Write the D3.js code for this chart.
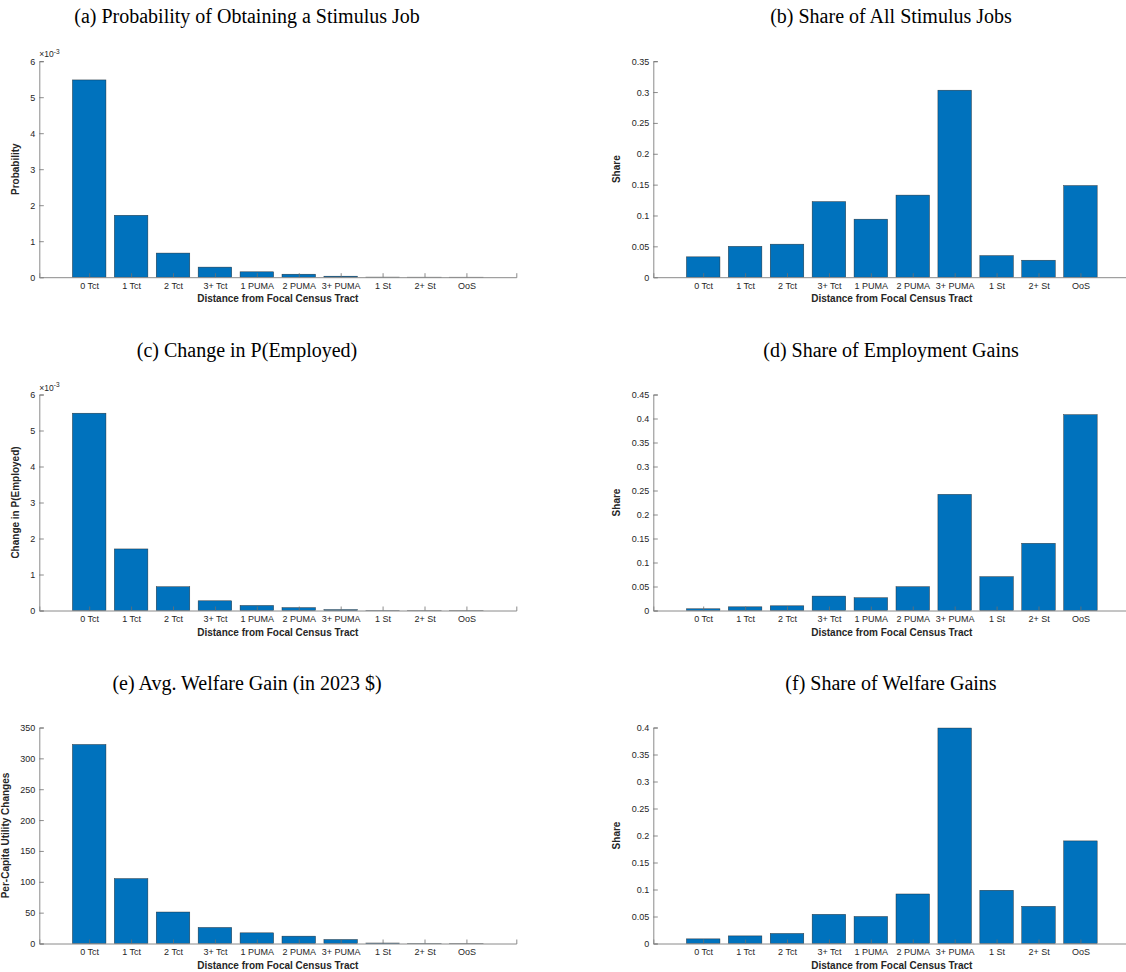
<!DOCTYPE html>
<html lang="en">
<head>
<meta charset="UTF-8">
<title>Stimulus jobs by distance</title>
<style>
    body { margin: 0; background: #fff; }
    svg { display: block; }
    .title { font-family: "Liberation Serif", "Times New Roman", serif; font-size: 20px; fill: #000; }
    .tick text { font-family: "Liberation Sans", Arial, sans-serif; font-size: 9px; fill: #262626; }
    .lbl { font-family: "Liberation Sans", Arial, sans-serif; font-size: 10px; font-weight: bold; fill: #262626; }
    .expo { font-family: "Liberation Sans", Arial, sans-serif; font-size: 8.5px; fill: #262626; }
</style>
</head>
<body>
<div id="chart"></div>
<script src="https://d3js.org/d3.v7.min.js"></script>
<script>
    // categories along the x axis
    const categories = ["0 Tct", "1 Tct", "2 Tct", "3+ Tct", "1 PUMA", "2 PUMA", "3+ PUMA", "1 St", "2+ St", "OoS"];

    // values
    const probJob      = [0.00548, 0.00172, 0.00067, 0.00028, 0.00015, 0.000083, 0.000028, 0.000003, 0.000001, 0.0000005];
    const shareJobs    = [0.033, 0.050, 0.0535, 0.1225, 0.094, 0.133, 0.303, 0.035, 0.0275, 0.1485];
    const changeEmp    = [0.00548, 0.00171, 0.00066, 0.00027, 0.00014, 0.00008, 0.000025, 0.000003, 0.000001, 0.0000005];
    const shareEmp     = [0.0036, 0.0077, 0.0098, 0.030, 0.0266, 0.0496, 0.242, 0.0705, 0.140, 0.408];
    const welfareGain  = [322.5, 105.2, 51, 26, 17.3, 11.9, 6.5, 0.8, 0.2, 0.1];
    const shareWelfare = [0.0086, 0.0141, 0.0186, 0.054, 0.050, 0.0917, 0.399, 0.0986, 0.0688, 0.190];

    // y tick values
    const ticksProb   = [0, 0.001, 0.002, 0.003, 0.004, 0.005, 0.006];
    const ticksShareB = [0, 0.05, 0.1, 0.15, 0.2, 0.25, 0.3, 0.35];
    const ticksShareD = [0, 0.05, 0.1, 0.15, 0.2, 0.25, 0.3, 0.35, 0.4, 0.45];
    const ticksWelf   = [0, 50, 100, 150, 200, 250, 300, 350];
    const ticksShareF = [0, 0.05, 0.1, 0.15, 0.2, 0.25, 0.3, 0.35, 0.4];

    const titles  = ["(a) Probability of Obtaining a Stimulus Job", "(b) Share of All Stimulus Jobs",
                     "(c) Change in P(Employed)", "(d) Share of Employment Gains",
                     "(e) Avg. Welfare Gain (in 2023 $)", "(f) Share of Welfare Gains"];
    const yLabels = ["Probability", "Share", "Change in P(Employed)", "Share", "Per-Capita Utility Changes", "Share"];
    const xLabel  = "Distance from Focal Census Tract";

    const panels = [
        { values: probJob, ticks: ticksProb, expo: true, labX: -20.5 },
        { values: shareJobs, ticks: ticksShareB, labX: -33.5 },
        { values: changeEmp, ticks: ticksProb, expo: true, labX: -20.5 },
        { values: shareEmp, ticks: ticksShareD, labX: -33.5 },
        { values: welfareGain, ticks: ticksWelf, labX: -30.5 },
        { values: shareWelfare, ticks: ticksShareF, labX: -33.5 }
    ];

    const W = 1126, H = 972;
    const plotW = 477, plotH = 216;
    const colX = [39.3, 653.3];
    const rowTop = [61.2, 394.5, 727.5];
    const titleX = [247, 891];
    const titleY = [23, 356.5, 690];

    const svg = d3.select("#chart").append("svg")
        .attr("width", W)
        .attr("height", H);

    const x = d3.scaleLinear().domain([-1.19, 10.19]).range([0, plotW]);
    const barW = x(0.8) - x(0);

    panels.forEach((p, i) => {
        const col = i % 2, row = Math.floor(i / 2);
        const g = svg.append("g")
            .attr("transform", "translate(" + colX[col] + "," + rowTop[row] + ")");

        const yMax = p.ticks[p.ticks.length - 1];
        const y = d3.scaleLinear().domain([0, yMax]).range([plotH, 0]);

        svg.append("text")
            .attr("class", "title")
            .attr("x", titleX[col])
            .attr("y", titleY[row])
            .attr("text-anchor", "middle")
            .text(titles[i]);

        // bars
        g.selectAll(".bar")
            .data(p.values)
          .enter().append("rect")
            .attr("class", "bar")
            .attr("x", (d, k) => x(k) - barW / 2)
            .attr("y", d => y(d))
            .attr("width", barW)
            .attr("height", d => plotH - y(d))
            .attr("fill", "#0072BD")
            .attr("stroke", "#1a1a1a")
            .attr("stroke-opacity", 0.8)
            .attr("stroke-width", 0.5);

        // y axis
        const yAxis = d3.axisLeft(y)
            .tickValues(p.ticks)
            .tickSize(-4.5)
            .tickPadding(4)
            .tickFormat(d => p.expo ? String(Math.round(d * 1000)) : String(+d.toFixed(4)));
        const ya = g.append("g").call(yAxis);

        // x axis
        const xAxis = d3.axisBottom(x)
            .tickValues(d3.range(categories.length))
            .tickSize(-4)
            .tickPadding(5)
            .tickFormat(k => categories[k]);
        const xa = g.append("g")
            .attr("transform", "translate(0," + plotH + ")")
            .call(xAxis);

        [ya, xa].forEach(a => {
            a.select(".domain").attr("stroke", "#8a8a8a").attr("stroke-width", 1);
            a.selectAll(".tick line").attr("stroke", "#6e6e6e").attr("stroke-width", 0.8);
        });
        ya.selectAll(".tick text").attr("dy", "0.34em");
        xa.selectAll(".tick text").attr("dy", "0.75em");

        // exponent label
        if (p.expo) {
            const e = g.append("text")
                .attr("class", "expo")
                .attr("x", 0)
                .attr("y", -4);
            e.append("tspan").text("\u00d710");
            e.append("tspan").attr("dy", -3.5).attr("font-size", "6.5px").text("-3");
        }

        // axis labels
        g.append("text")
            .attr("class", "lbl")
            .attr("x", x(4.5))
            .attr("y", plotH + 25)
            .attr("text-anchor", "middle")
            .text(xLabel);

        g.append("text")
            .attr("class", "lbl")
            .attr("transform", "translate(" + p.labX + "," + (plotH / 2) + ") rotate(-90)")
            .attr("text-anchor", "middle")
            .text(yLabels[i]);
    });
</script>
</body>
</html>
